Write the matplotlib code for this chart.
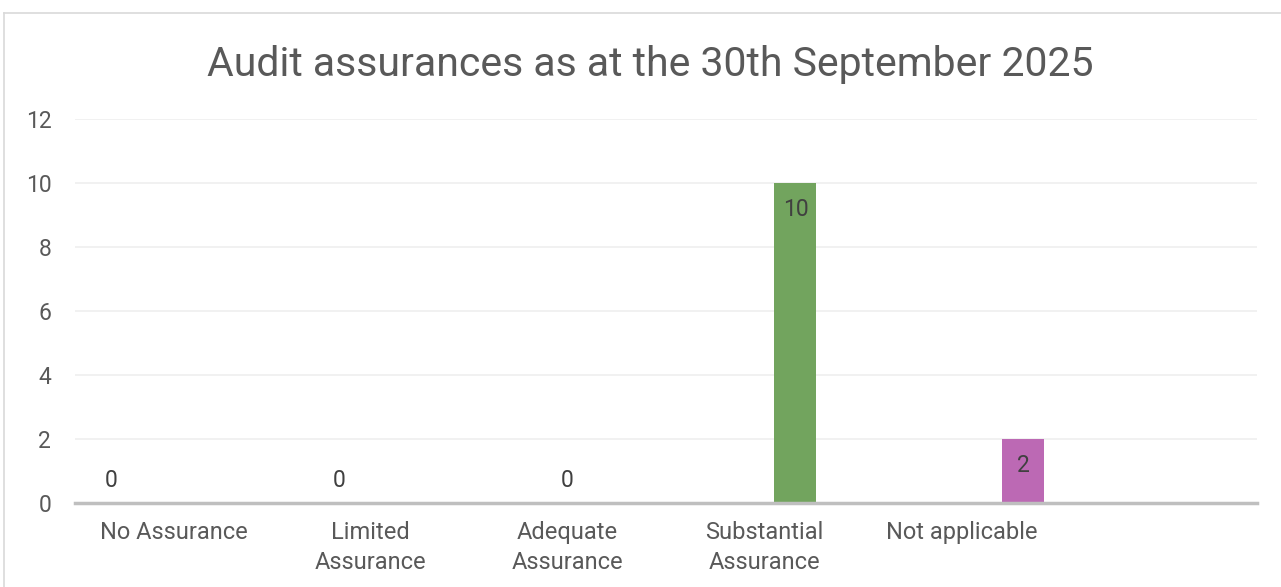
import numpy as np
import matplotlib.pyplot as plt
from matplotlib.lines import Line2D

plt.rcParams['font.family'] = ['Roboto', 'DejaVu Sans']

# categories (last slot left empty as in the source chart)
categories = ['No Assurance', 'Limited\nAssurance', 'Adequate\nAssurance',
              'Substantial\nAssurance', 'Not applicable', '']
series_names = ['No Assurance', 'Limited Assurance', 'Adequate Assurance',
                'Substantial Assurance', 'Not applicable']
values = [0, 0, 0, 10, 2]
colors = ['#4472C4', '#ED7D31', '#A5A5A5', '#72A45E', '#BC69B4']

fig = plt.figure(figsize=(12.81, 5.87), dpi=100)
ax = fig.add_axes([0.0585, 0.1431, 0.9228, 0.6542])

step = 0.157
width = 0.213
x = np.arange(len(categories))
for j, (name, v, c) in enumerate(zip(series_names, values, colors)):
    pos = x[j] + (j - 2) * step
    ax.bar(pos, v, width=width, color=c, zorder=3, label=name)
    # inside-end labels; zero bars get their label just above the axis
    off = -27 if v > 0 else 23
    ax.annotate(str(v), (pos, v), xytext=(0, off), textcoords='offset pixels',
                ha='center', va='center', fontsize=16.5, color='#404040', zorder=4)

ax.set_xlim(-0.5, len(categories) - 0.5)
ax.set_ylim(0, 12)
ax.set_yticks(range(0, 13, 2))
ax.set_xticks(x)
ax.set_xticklabels(categories, fontsize=17, color='#595959', linespacing=1.4)
ax.tick_params(axis='y', labelsize=16.5, labelcolor='#595959', length=0, pad=17)
ax.tick_params(axis='x', length=0, pad=13)
ax.grid(axis='y', color='#EFEFEF', linewidth=1.2, zorder=0)
for s in ['top', 'right', 'left']:
    ax.spines[s].set_visible(False)
ax.spines['bottom'].set_color('#BFBFBF')
ax.spines['bottom'].set_linewidth(2.5)
ax.spines['bottom'].set_zorder(5)

fig.text(0.508, 0.89, 'Audit assurances as at the 30th September 2025',
         ha='center', va='center', fontsize=29.5, color='#595959')

# chart area border (partly cropped in the source)
fig.add_artist(Line2D([0.0035, 1.0], [0.978, 0.978], color='#D9D9D9', linewidth=1.2))
fig.add_artist(Line2D([0.0035, 0.0035], [0.0, 0.978], color='#D9D9D9', linewidth=1.2))

fig.savefig('out.png', dpi=100)
